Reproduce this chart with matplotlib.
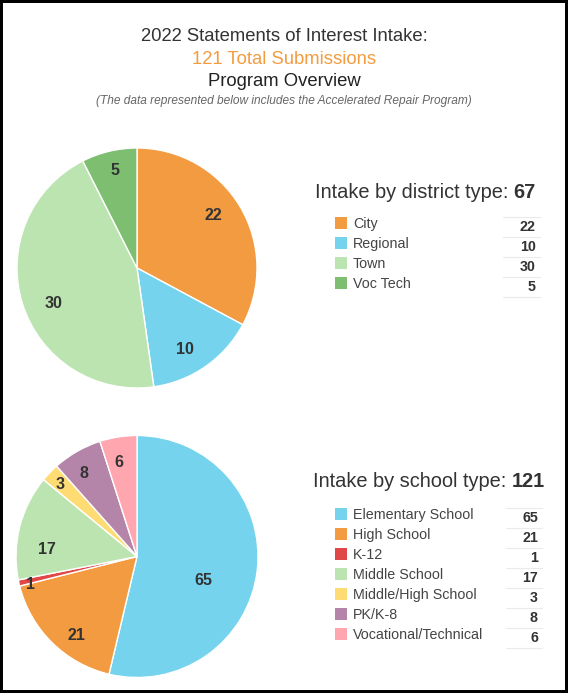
import matplotlib
matplotlib.use('Agg')
import matplotlib.pyplot as plt
import numpy as np
from matplotlib.patches import Rectangle
from matplotlib.lines import Line2D

plt.rcParams['font.family'] = ['Liberation Sans', 'DejaVu Sans']

# data
district_labels = ['City', 'Regional', 'Town', 'Voc Tech']
district_values = [22, 10, 30, 5]
district_colors = ['#F39B40', '#75D3EE', '#BCE4B0', '#7DBE71']

school_labels = ['Elementary School', 'High School', 'K-12', 'Middle School',
                 'Middle/High School', 'PK/K-8', 'Vocational/Technical']
school_values = [65, 21, 1, 17, 3, 8, 6]
school_colors = ['#75D3EE', '#F39B40', '#E04848', '#BCE4B0',
                 '#FFDC73', '#B485A8', '#FFA6AE']

# placement of the number labels inside each slice:
# distance as fraction of radius, and angle nudge (deg) from the slice middle
district_label_dist = [0.77, 0.79, 0.76, 0.83]
district_label_nudge = [3.5, -4.7, 5.7, -0.7]
school_label_dist = [0.58, 0.82, 0.91, 0.75, 0.87, 0.815, 0.795]
school_label_nudge = [-13.1, 7.0, 2.0, 10.0, 0.8, 2.6, 1.9]

W, H = 568, 693
fig = plt.figure(figsize=(W / 100, H / 100), dpi=100)
fig.patch.set_facecolor('white')


def fx(px):
    return px / W


def fy(py):
    return 1 - py / H


def draw_pie(cx, cy, r, values, colors, dists, nudges):
    ax = fig.add_axes([fx(cx - r), fy(cy + r), 2 * r / W, 2 * r / H])
    wedges, _ = ax.pie(values, colors=colors, startangle=90, counterclock=False,
                       radius=1, wedgeprops=dict(edgecolor='white', linewidth=1))
    for w, v, d, n in zip(wedges, values, dists, nudges):
        ang = np.deg2rad((w.theta1 + w.theta2) / 2 + n)
        ax.text(d * np.cos(ang), d * np.sin(ang), str(v), ha='center', va='center',
                fontsize=11.5, fontweight='bold', color='#333333')
    ax.set_xlim(-1, 1)
    ax.set_ylim(-1, 1)
    ax.set_aspect('equal')
    ax.axis('off')


def draw_legend(title, total, title_right, title_base, labels, values, colors,
                first_base, val_right, line_x0, line_x1):
    renderer = fig.canvas.get_renderer()
    tb = fig.text(fx(title_right), fy(title_base), str(total), ha='right', va='baseline',
                  fontsize=14.4, fontweight='bold', color='#333333')
    bb = tb.get_window_extent(renderer)
    fig.text(bb.x0 / fig.bbox.width, fy(title_base), title + ' ', ha='right', va='baseline',
             fontsize=14.4, color='#333333')
    for i, (lab, val, col) in enumerate(zip(labels, values, colors)):
        base = first_base + 20 * i
        fig.add_artist(Rectangle((fx(335), fy(base + 1)), 12 / W, 12 / H,
                                 transform=fig.transFigure, facecolor=col, edgecolor='none'))
        fig.text(fx(353), fy(base), lab, ha='left', va='baseline',
                 fontsize=10.3, color='#444444')
        fig.text(fx(val_right), fy(base + 3), str(val), ha='right', va='baseline',
                 fontsize=10.3, fontweight='bold', color='#333333')
    for k in range(len(labels) + 1):
        y = first_base - 11 + 20 * k
        fig.add_artist(Line2D([fx(line_x0), fx(line_x1)], [fy(y), fy(y)],
                              transform=fig.transFigure, color='#EBEBEB', linewidth=0.8))


# titles
fig.text(0.5, fy(41), '2022 Statements of Interest Intake:', ha='center', va='baseline',
         fontsize=13.3, color='#333333')
fig.text(0.5, fy(64), '121 Total Submissions', ha='center', va='baseline',
         fontsize=13.3, color='#F39C40')
fig.text(0.5, fy(86), 'Program Overview', ha='center', va='baseline',
         fontsize=13.3, color='#222222')
fig.text(0.5, fy(104), '(The data represented below includes the Accelerated Repair Program)',
         ha='center', va='baseline', fontsize=8.6, style='italic', color='#666666')

# pies
draw_pie(137, 268, 120, district_values, district_colors,
         district_label_dist, district_label_nudge)
draw_pie(137, 556.5, 121, school_values, school_colors,
         school_label_dist, school_label_nudge)

# legends
draw_legend('Intake by district type:', sum(district_values), 536, 198,
            district_labels, district_values, district_colors, 228, 536, 503, 540)
draw_legend('Intake by school type:', sum(school_values), 545, 487,
            school_labels, school_values, school_colors, 519, 538, 506, 542)

# black frame
fig.add_artist(Rectangle((0, 0), 1, 1, transform=fig.transFigure, fill=False,
                         edgecolor='black', linewidth=4.3))

fig.savefig('out.png', dpi=100)
